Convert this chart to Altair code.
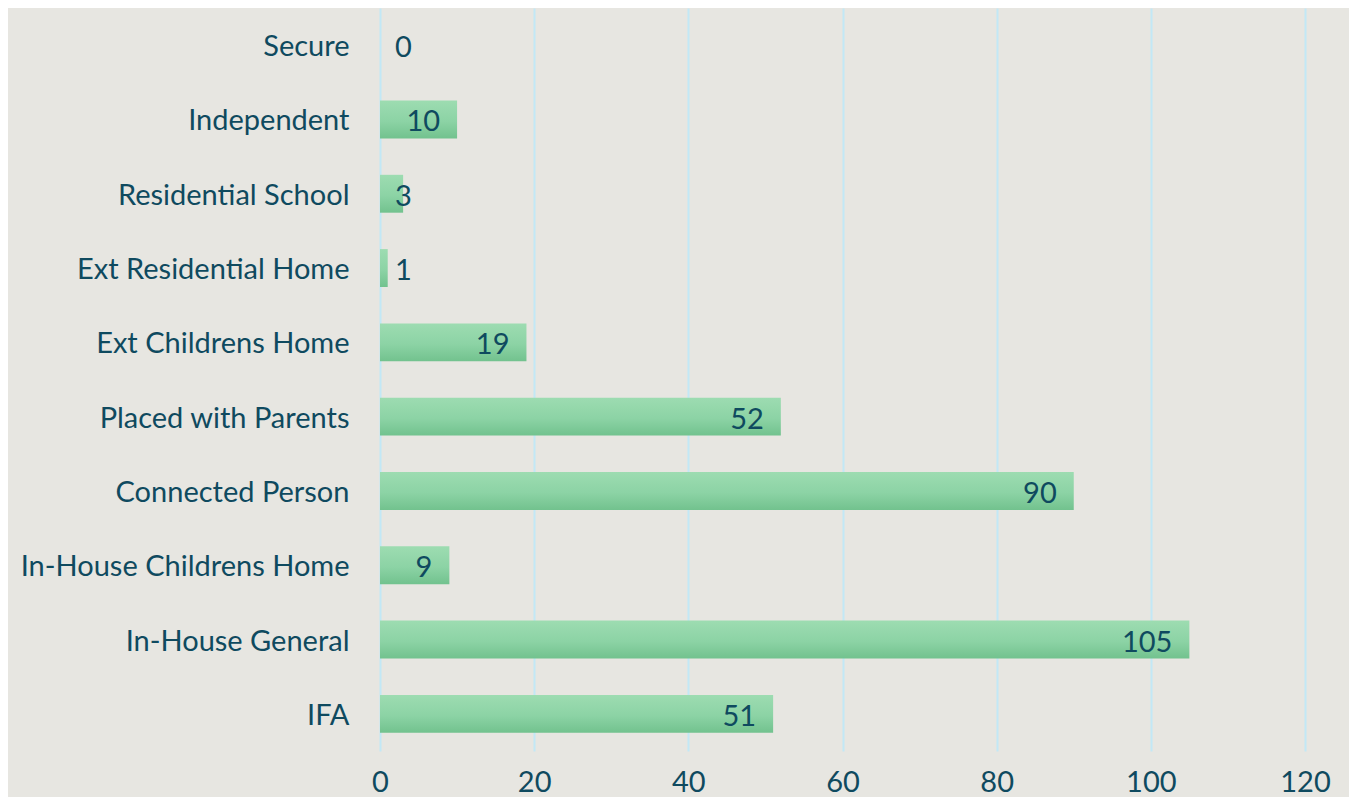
import altair as alt
import pandas as pd

categories = ["Secure", "Independent", "Residential School", "Ext Residential Home",
              "Ext Childrens Home", "Placed with Parents", "Connected Person",
              "In-House Childrens Home", "In-House General", "IFA"]
values = [0, 10, 3, 1, 19, 52, 90, 9, 105, 51]
x_ticks = [0, 20, 40, 60, 80, 100, 120]

df = pd.DataFrame({"category": categories, "value": values})

FONT = "Lato"
TEXT = "#0F4A5F"
BG = "#E7E6E1"
GRID = "#C2E8F6"

y_enc = alt.Y("category:N", sort=categories, title=None,
              scale=alt.Scale(paddingInner=0.49, paddingOuter=0.245),
              axis=alt.Axis(labelFont=FONT, labelFontSize=29, labelColor=TEXT,
                            labelPadding=31, labelOffset=2, ticks=False, domain=False,
                            grid=False, labelLimit=400))
x_enc = alt.X("value:Q", title=None,
              scale=alt.Scale(domain=[0, 120], nice=False),
              axis=alt.Axis(values=x_ticks, labelFont=FONT, labelFontSize=29,
                            labelColor=TEXT, labelPadding=17, labelFlush=False,
                            ticks=False, domain=False, grid=True, gridColor=GRID,
                            gridWidth=2))

bars = alt.Chart(df).mark_bar(
    color=alt.Gradient(gradient="linear", x1=0, x2=0, y1=0, y2=1,
                       stops=[alt.GradientStop(color="#9DDCB1", offset=0),
                              alt.GradientStop(color="#8CD3A5", offset=0.55),
                              alt.GradientStop(color="#72C28E", offset=1)])
).encode(x=x_enc, y=y_enc)

labels_big = alt.Chart(df).transform_filter("datum.value >= 5").mark_text(
    align="right", baseline="middle", dx=-17, dy=3, font=FONT, fontSize=29, color=TEXT
).encode(x=alt.X("value:Q"), y=alt.Y("category:N", sort=categories), text="value:Q")

labels_small = alt.Chart(df).transform_filter("datum.value < 5").mark_text(
    align="left", baseline="middle", dx=15, dy=3, font=FONT, fontSize=29, color=TEXT
).encode(x=alt.datum(0), y=alt.Y("category:N", sort=categories), text="value:Q")

chart = alt.layer(bars, labels_big, labels_small).properties(
    width=925, height=743,
    background=BG,
    padding={"left": 372, "top": 0, "right": 44, "bottom": 46},
    autosize=alt.AutoSizeParams(type="none"),
).configure_view(stroke=None)

chart.save("out.html", embed_options={"renderer": "svg", "actions": False})
